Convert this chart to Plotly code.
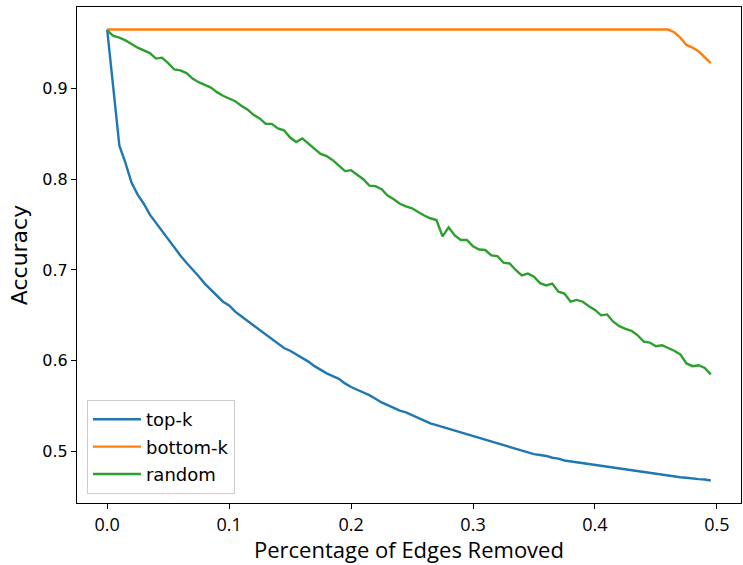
import plotly.graph_objects as go

x_values = [round(i * 0.005, 3) for i in range(100)]

top_k = [0.965, 0.900, 0.837, 0.818, 0.796, 0.783, 0.773, 0.761, 0.752, 0.742,
         0.733, 0.725, 0.716, 0.708, 0.701, 0.693, 0.685, 0.678, 0.672, 0.665,
         0.661, 0.654, 0.649, 0.644, 0.638, 0.634, 0.628, 0.623, 0.618, 0.614,
         0.611, 0.607, 0.603, 0.599, 0.594, 0.590, 0.586, 0.583, 0.580, 0.575,
         0.571, 0.568, 0.565, 0.562, 0.558, 0.554, 0.551, 0.548, 0.545, 0.543,
         0.540, 0.537, 0.534, 0.531, 0.529, 0.527, 0.525, 0.523, 0.521, 0.519,
         0.517, 0.515, 0.513, 0.511, 0.509, 0.507, 0.505, 0.503, 0.501, 0.499,
         0.497, 0.496, 0.495, 0.493, 0.492, 0.490, 0.489, 0.488, 0.487, 0.486,
         0.485, 0.484, 0.483, 0.482, 0.481, 0.480, 0.479, 0.478, 0.477, 0.476,
         0.475, 0.474, 0.473, 0.472, 0.4715, 0.471, 0.470, 0.4695, 0.469, 0.468]

bottom_k = [0.965] * 93 + [0.962, 0.956, 0.948, 0.945, 0.941, 0.934, 0.928]

random_vals = [0.964, 0.958, 0.956, 0.953, 0.949, 0.945, 0.942, 0.939, 0.933, 0.934,
               0.928, 0.921, 0.920, 0.917, 0.911, 0.907, 0.904, 0.901, 0.896, 0.892,
               0.889, 0.886, 0.881, 0.877, 0.871, 0.867, 0.861, 0.861, 0.856, 0.854,
               0.846, 0.841, 0.845, 0.839, 0.833, 0.828, 0.8255, 0.821, 0.815, 0.809,
               0.810, 0.805, 0.800, 0.793, 0.7924, 0.789, 0.782, 0.778, 0.773, 0.770,
               0.768, 0.764, 0.760, 0.757, 0.755, 0.737, 0.747, 0.738, 0.733, 0.733,
               0.726, 0.7226, 0.722, 0.716, 0.7152, 0.708, 0.7072, 0.700, 0.694, 0.696,
               0.6925, 0.6855, 0.683, 0.685, 0.676, 0.674, 0.665, 0.667, 0.665, 0.660,
               0.656, 0.650, 0.651, 0.643, 0.638, 0.635, 0.633, 0.628, 0.621, 0.620,
               0.616, 0.617, 0.614, 0.611, 0.607, 0.597, 0.594, 0.595, 0.592, 0.585]

series_names = ["top-k", "bottom-k", "random"]
series_colors = ["#1f77b4", "#ff7f0e", "#2ca02c"]
x_ticks = [0.0, 0.1, 0.2, 0.3, 0.4, 0.5]
x_tick_labels = ["0.0", "0.1", "0.2", "0.3", "0.4", "0.5"]
y_ticks = [0.5, 0.6, 0.7, 0.8, 0.9]
y_tick_labels = ["0.5", "0.6", "0.7", "0.8", "0.9"]
x_title = "Percentage of Edges Removed"
y_title = "Accuracy"

fig = go.Figure()
for name, vals, col in zip(series_names, [top_k, bottom_k, random_vals], series_colors):
    fig.add_trace(go.Scatter(x=x_values, y=vals, mode="lines", name=name, legendgroup=name,
                             line=dict(color=col, width=2.4)))

xmin, xmax = 0.0, 0.495
xm = (xmax - xmin) * 0.05
allv = top_k + bottom_k + random_vals
ymin, ymax = min(allv), max(allv)
ym = (ymax - ymin) * 0.05

fig.add_annotation(text=x_title, xref="paper", yref="paper", x=0.5, y=-0.093,
                   xanchor="center", yanchor="middle", showarrow=False,
                   font=dict(family="Open Sans", size=22, color="black"))

fig.update_layout(
    width=743, height=565,
    margin=dict(l=77, r=2, t=7, b=62),
    paper_bgcolor="white", plot_bgcolor="white",
    font=dict(family="DejaVu Sans", color="black", size=16),
    showlegend=True,
    legend=dict(x=0.015, y=0.018, xanchor="left", yanchor="bottom",
                bgcolor="rgba(255,255,255,0.8)", bordercolor="#cccccc", borderwidth=1,
                font=dict(family="DejaVu Sans", size=18), tracegroupgap=1, itemwidth=48),
    xaxis=dict(range=[xmin - xm, xmax + xm], tickvals=x_ticks, ticktext=x_tick_labels,
               automargin=False,
               showgrid=False, zeroline=False, showline=True, linecolor="black", linewidth=1.2,
               mirror=True, ticks="outside", ticklen=5, tickwidth=1.2, tickcolor="black",
               tickfont=dict(family="Open Sans", size=18)),
    yaxis=dict(range=[ymin - ym, ymax + ym], tickvals=y_ticks, ticktext=y_tick_labels,
               automargin=False,
               showgrid=False, zeroline=False, showline=True, linecolor="black", linewidth=1.2,
               mirror=True, ticks="outside", ticklen=5, tickwidth=1.2, tickcolor="black",
               tickfont=dict(family="DejaVu Sans", size=16),
               title=dict(text=y_title, standoff=8, font=dict(family="DejaVu Sans", size=22))),
)

fig.write_html("out.html")
